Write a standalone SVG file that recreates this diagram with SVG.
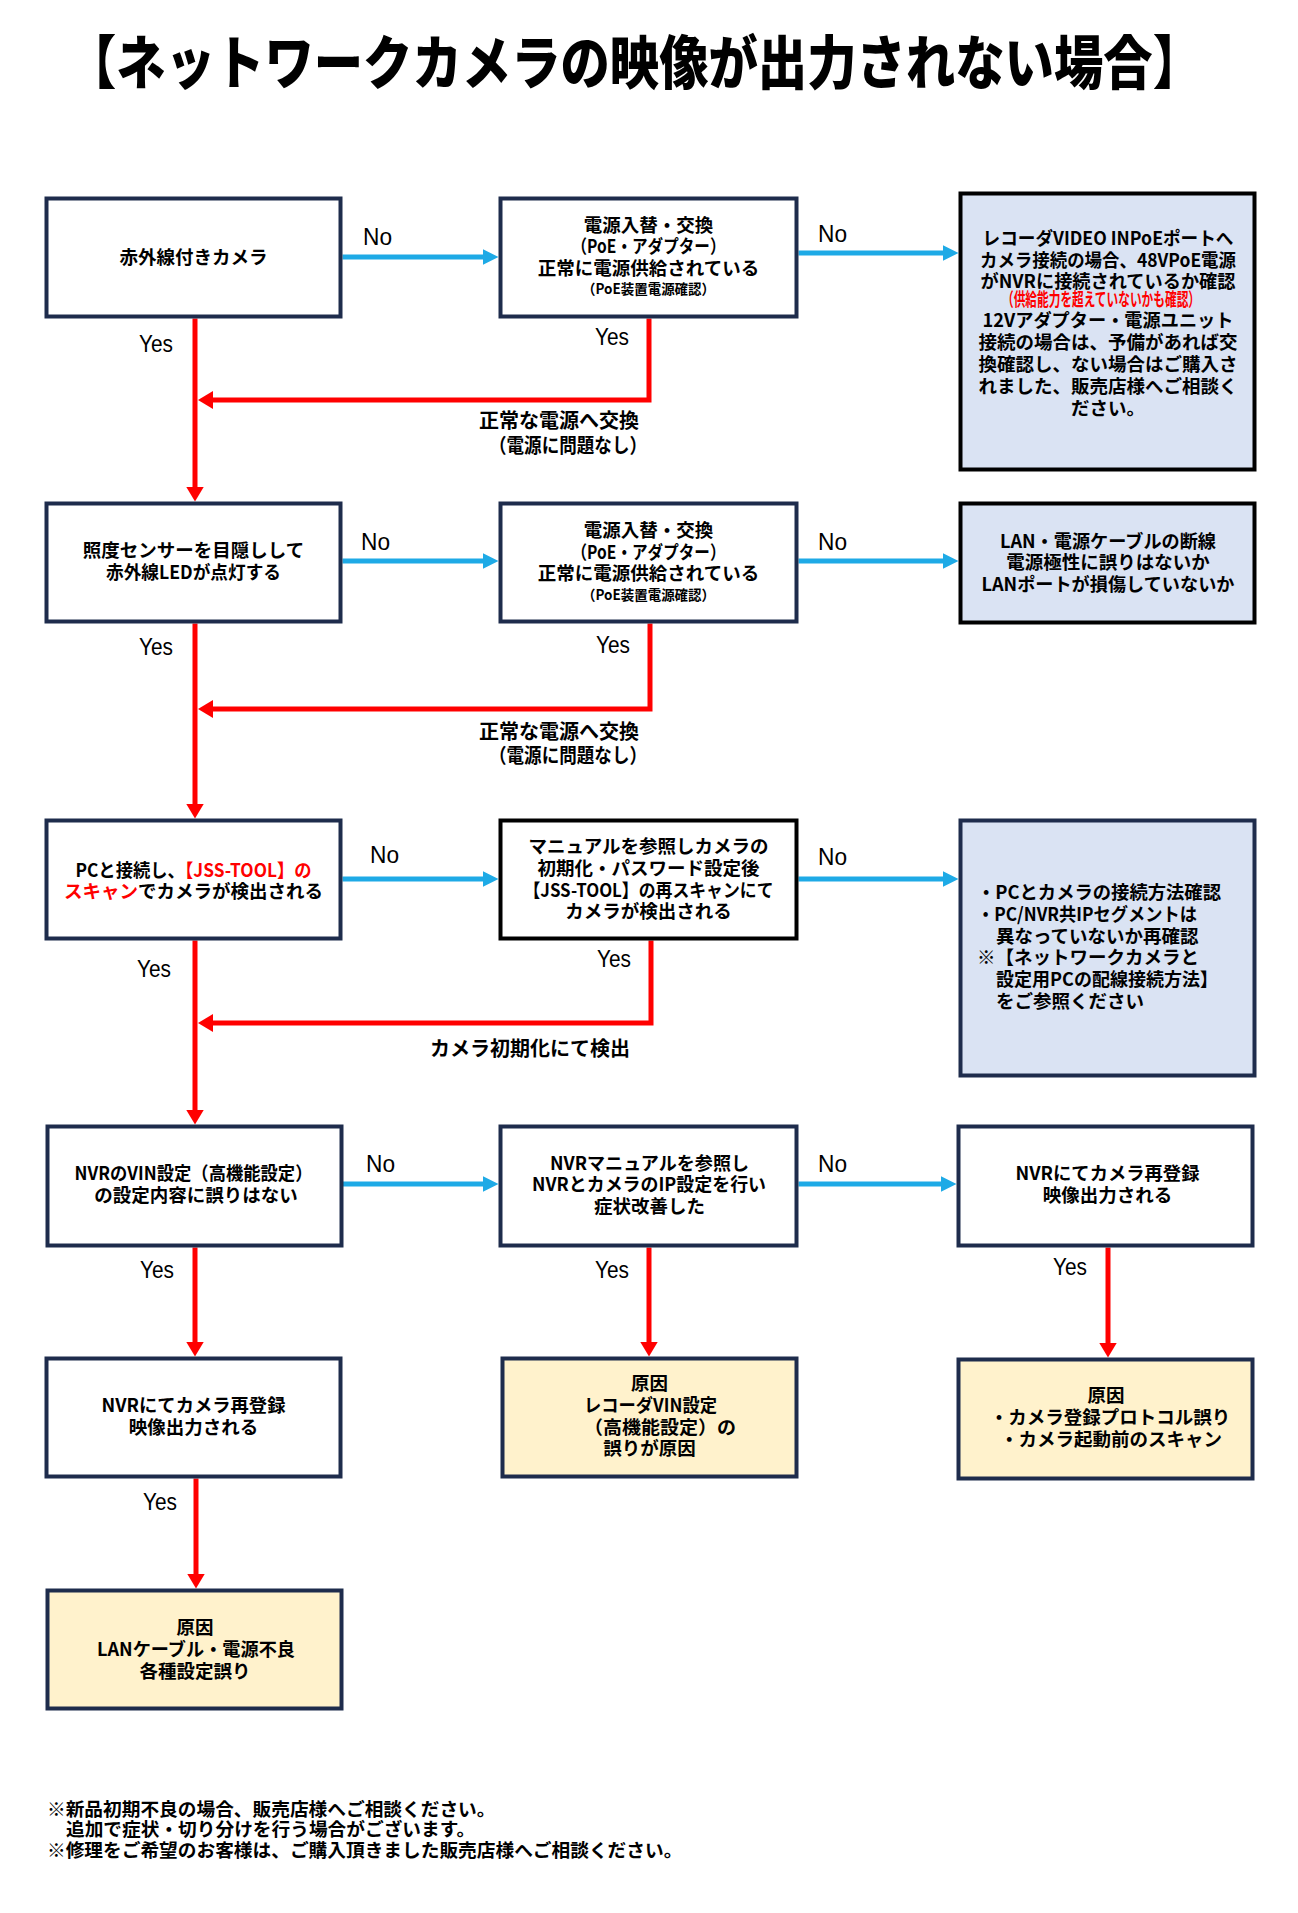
<svg xmlns="http://www.w3.org/2000/svg" width="1298" height="1913" viewBox="0 0 1298 1913">
<style>
.box{stroke:#1e2c4c;stroke-width:4;fill:#fff}
.bk{stroke:#000}
.info{fill:#dae3f3}
.cause{fill:#fff2cc}
.t{font-family:"Noto Sans CJK JP","Noto Sans",sans-serif;font-size:18.5px;font-weight:700;fill:#000;text-anchor:middle}
.l{text-anchor:start}
.s{font-size:14px}
.r{fill:#ff0000}
.lb{font-family:"Noto Sans CJK JP","Noto Sans",sans-serif;font-size:20px;font-weight:700;fill:#000;text-anchor:middle}
.yn{font-family:"Liberation Sans",Arial,sans-serif;font-size:24px;fill:#000}
.blue{stroke:#1eaae6;stroke-width:5;fill:none}
.red{stroke:#ff0000;stroke-width:5;fill:none}
.ft{font-family:"Noto Sans CJK JP","Noto Sans",sans-serif;font-size:18.7px;font-weight:700;fill:#000}
</style>
<defs>
<marker id="hb" markerUnits="userSpaceOnUse" markerWidth="16" markerHeight="16" viewBox="0 0 16 16" refX="1" refY="8" orient="auto"><path d="M0,0 L16,8 L0,16 z" fill="#1eaae6"/></marker>
<marker id="hr" markerUnits="userSpaceOnUse" markerWidth="15" markerHeight="18" viewBox="0 0 15 18" refX="1" refY="9" orient="auto"><path d="M0,0 L15,9 L0,18 z" fill="#ff0000"/></marker>
</defs>
<rect width="1298" height="1913" fill="#fff"/>
<text id="title" x="634.5" y="84" font-family="'Noto Sans CJK JP','Noto Sans',sans-serif" font-size="58" font-weight="900" text-anchor="middle" textLength="1135" lengthAdjust="spacingAndGlyphs">【ネットワークカメラの映像が出力されない場合】</text>

<g id="connectors">
<path class="blue" marker-end="url(#hb)" d="M342.5,257 H483.5"/>
<path class="blue" marker-end="url(#hb)" d="M798.5,253 H943.5"/>
<path class="blue" marker-end="url(#hb)" d="M342.5,561 H483.5"/>
<path class="blue" marker-end="url(#hb)" d="M798.5,561 H943.5"/>
<path class="blue" marker-end="url(#hb)" d="M342.5,879 H483.5"/>
<path class="blue" marker-end="url(#hb)" d="M798.5,879 H943.5"/>
<path class="blue" marker-end="url(#hb)" d="M342.5,1184 H483.5"/>
<path class="blue" marker-end="url(#hb)" d="M798.5,1184 H941.5"/>
<path class="red" marker-end="url(#hr)" d="M195,318.5 V487.5"/>
<path class="red" marker-end="url(#hr)" d="M195,623.5 V804.5"/>
<path class="red" marker-end="url(#hr)" d="M195,940.5 V1110.5"/>
<path class="red" marker-end="url(#hr)" d="M195,1247.5 V1342.5"/>
<path class="red" marker-end="url(#hr)" d="M196,1478.5 V1574.5"/>
<path class="red" marker-end="url(#hr)" d="M649,1247.5 V1342.5"/>
<path class="red" marker-end="url(#hr)" d="M1108,1247.5 V1343.5"/>
<path class="red" marker-end="url(#hr)" d="M649,318.5 V400 H212"/>
<path class="red" marker-end="url(#hr)" d="M650,623.5 V709 H212"/>
<path class="red" marker-end="url(#hr)" d="M651,940.5 V1023 H212"/>
<text class="yn" x="363" y="245" textLength="29" lengthAdjust="spacingAndGlyphs">No</text>
<text class="yn" x="818" y="242" textLength="29" lengthAdjust="spacingAndGlyphs">No</text>
<text class="yn" x="361" y="550" textLength="29" lengthAdjust="spacingAndGlyphs">No</text>
<text class="yn" x="818" y="550" textLength="29" lengthAdjust="spacingAndGlyphs">No</text>
<text class="yn" x="370" y="863" textLength="29" lengthAdjust="spacingAndGlyphs">No</text>
<text class="yn" x="818" y="865" textLength="29" lengthAdjust="spacingAndGlyphs">No</text>
<text class="yn" x="366" y="1172" textLength="29" lengthAdjust="spacingAndGlyphs">No</text>
<text class="yn" x="818" y="1172" textLength="29" lengthAdjust="spacingAndGlyphs">No</text>
<text class="yn" x="139" y="352" textLength="34" lengthAdjust="spacingAndGlyphs">Yes</text>
<text class="yn" x="595" y="345" textLength="34" lengthAdjust="spacingAndGlyphs">Yes</text>
<text class="yn" x="139" y="655" textLength="34" lengthAdjust="spacingAndGlyphs">Yes</text>
<text class="yn" x="596" y="653" textLength="34" lengthAdjust="spacingAndGlyphs">Yes</text>
<text class="yn" x="137" y="977" textLength="34" lengthAdjust="spacingAndGlyphs">Yes</text>
<text class="yn" x="597" y="967" textLength="34" lengthAdjust="spacingAndGlyphs">Yes</text>
<text class="yn" x="140" y="1278" textLength="34" lengthAdjust="spacingAndGlyphs">Yes</text>
<text class="yn" x="595" y="1278" textLength="34" lengthAdjust="spacingAndGlyphs">Yes</text>
<text class="yn" x="1053" y="1275" textLength="34" lengthAdjust="spacingAndGlyphs">Yes</text>
<text class="yn" x="143" y="1510" textLength="34" lengthAdjust="spacingAndGlyphs">Yes</text>
<text class="lb" x="559" y="427.5">正常な電源へ交換</text>
<text class="lb" x="568" y="452.5" textLength="158" lengthAdjust="spacingAndGlyphs">（電源に問題なし）</text>
<text class="lb" x="559" y="738.5">正常な電源へ交換</text>
<text class="lb" x="568" y="762.5" textLength="158" lengthAdjust="spacingAndGlyphs">（電源に問題なし）</text>
<text class="lb" x="530" y="1055.5">カメラ初期化にて検出</text>
</g>

<g id="n1">
<rect class="box" x="46.5" y="198.5" width="294" height="118"/>
<text class="t" x="193.5" y="264">赤外線付きカメラ</text>
</g>
<g id="n2">
<rect class="box" x="500.5" y="198.5" width="296" height="118"/>
<text class="t" x="648.5" y="231.5">電源入替・交換</text>
<text class="t" x="648.5" y="253" textLength="154" lengthAdjust="spacingAndGlyphs">（PoE・アダプター）</text>
<text class="t" x="648.5" y="275">正常に電源供給されている</text>
<text class="t s" x="648.5" y="293.5" textLength="133" lengthAdjust="spacingAndGlyphs">（PoE装置電源確認）</text>
</g>
<g id="n3">
<rect class="box bk info" x="960.5" y="193.5" width="294" height="276"/>
<text class="t" x="1108" y="245" textLength="251" lengthAdjust="spacingAndGlyphs">レコーダVIDEO INPoEポートへ</text>
<text class="t" x="1108" y="267" textLength="256" lengthAdjust="spacingAndGlyphs">カメラ接続の場合、48VPoE電源</text>
<text class="t" x="1108" y="288" textLength="255" lengthAdjust="spacingAndGlyphs">がNVRに接続されているか確認</text>
<text class="t r" x="1101" y="305.5" font-size="12" textLength="198" lengthAdjust="spacingAndGlyphs">（供給能力を超えていないかも確認）</text>
<text class="t" x="1108" y="327" textLength="251" lengthAdjust="spacingAndGlyphs">12Vアダプター・電源ユニット</text>
<text class="t" x="1108" y="349">接続の場合は、予備があれば交</text>
<text class="t" x="1108" y="371">換確認し、ない場合はご購入さ</text>
<text class="t" x="1108" y="393">れました、販売店様へご相談く</text>
<text class="t" x="1108" y="415">ださい。</text>
</g>

<g id="n4">
<rect class="box" x="46.5" y="503.5" width="294" height="118"/>
<text class="t" x="193.5" y="557">照度センサーを目隠しして</text>
<text class="t" x="193.5" y="579" textLength="175" lengthAdjust="spacingAndGlyphs">赤外線LEDが点灯する</text>
</g>
<g id="n5">
<rect class="box" x="500.5" y="503.5" width="296" height="118"/>
<text class="t" x="648.5" y="537">電源入替・交換</text>
<text class="t" x="648.5" y="559" textLength="154" lengthAdjust="spacingAndGlyphs">（PoE・アダプター）</text>
<text class="t" x="648.5" y="580">正常に電源供給されている</text>
<text class="t s" x="648.5" y="599.5" textLength="133" lengthAdjust="spacingAndGlyphs">（PoE装置電源確認）</text>
</g>
<g id="n6">
<rect class="box bk info" x="960.5" y="503.5" width="294" height="119"/>
<text class="t" x="1108" y="548" textLength="216" lengthAdjust="spacingAndGlyphs">LAN・電源ケーブルの断線</text>
<text class="t" x="1108" y="569">電源極性に誤りはないか</text>
<text class="t" x="1108" y="591" textLength="253" lengthAdjust="spacingAndGlyphs">LANポートが損傷していないか</text>
</g>

<g id="n7">
<rect class="box" x="46.5" y="820.5" width="294" height="118"/>
<text class="t" x="193.5" y="877" textLength="236" lengthAdjust="spacingAndGlyphs">PCと接続し、<tspan class="r">【JSS-TOOL】の</tspan></text>
<text class="t" x="193.5" y="898"><tspan class="r">スキャン</tspan>でカメラが検出される</text>
</g>
<g id="n8">
<rect class="box bk" x="500.5" y="820.5" width="296" height="118"/>
<text class="t" x="648.5" y="853">マニュアルを参照しカメラの</text>
<text class="t" x="648.5" y="875">初期化・パスワード設定後</text>
<text class="t" x="648.5" y="897" textLength="250" lengthAdjust="spacingAndGlyphs">【JSS-TOOL】の再スキャンにて</text>
<text class="t" x="648.5" y="918">カメラが検出される</text>
</g>
<g id="n9">
<rect class="box info" x="960.5" y="820.5" width="294" height="255"/>
<text class="t l" x="977" y="899" textLength="244" lengthAdjust="spacingAndGlyphs">・PCとカメラの接続方法確認</text>
<text class="t l" x="977" y="921" textLength="220" lengthAdjust="spacingAndGlyphs">・PC/NVR共IPセグメントは</text>
<text class="t l" x="996" y="943">異なっていないか再確認</text>
<text class="t l" x="977" y="964">※【ネットワークカメラと</text>
<text class="t l" x="996" y="986" textLength="222" lengthAdjust="spacingAndGlyphs">設定用PCの配線接続方法】</text>
<text class="t l" x="996" y="1008">をご参照ください</text>
</g>

<g id="n10">
<rect class="box" x="47.5" y="1126.5" width="294" height="119"/>
<text class="t" x="193.5" y="1180" textLength="238" lengthAdjust="spacingAndGlyphs">NVRのVIN設定（高機能設定）</text>
<text class="t" x="196" y="1202">の設定内容に誤りはない</text>
</g>
<g id="n11">
<rect class="box" x="500.5" y="1126.5" width="296" height="119"/>
<text class="t" x="649.5" y="1170" textLength="199" lengthAdjust="spacingAndGlyphs">NVRマニュアルを参照し</text>
<text class="t" x="649" y="1191" textLength="234" lengthAdjust="spacingAndGlyphs">NVRとカメラのIP設定を行い</text>
<text class="t" x="649.5" y="1213">症状改善した</text>
</g>
<g id="n12">
<rect class="box" x="958.5" y="1126.5" width="294" height="119"/>
<text class="t" x="1107.5" y="1180" textLength="184" lengthAdjust="spacingAndGlyphs">NVRにてカメラ再登録</text>
<text class="t" x="1107.5" y="1202">映像出力される</text>
</g>

<g id="n13">
<rect class="box" x="46.5" y="1358.5" width="294" height="118"/>
<text class="t" x="193.5" y="1412" textLength="184" lengthAdjust="spacingAndGlyphs">NVRにてカメラ再登録</text>
<text class="t" x="193.5" y="1434">映像出力される</text>
</g>
<g id="n14">
<rect class="box cause" x="502.5" y="1358.5" width="294" height="118"/>
<text class="t" x="649.5" y="1390">原因</text>
<text class="t" x="650.5" y="1412" textLength="133" lengthAdjust="spacingAndGlyphs">レコーダVIN設定</text>
<text class="t" x="660" y="1434" textLength="152" lengthAdjust="spacingAndGlyphs">（高機能設定）の</text>
<text class="t" x="649.5" y="1455">誤りが原因</text>
</g>
<g id="n15">
<rect class="box cause" x="958.5" y="1359.5" width="294" height="119"/>
<text class="t" x="1106" y="1402">原因</text>
<text class="t" x="1110" y="1424">・カメラ登録プロトコル誤り</text>
<text class="t" x="1111" y="1446">・カメラ起動前のスキャン</text>
</g>
<g id="n16">
<rect class="box cause" x="47.5" y="1590.5" width="294" height="118"/>
<text class="t" x="195" y="1634">原因</text>
<text class="t" x="196" y="1656" textLength="198" lengthAdjust="spacingAndGlyphs">LANケーブル・電源不良</text>
<text class="t" x="195" y="1678">各種設定誤り</text>
</g>

<g id="footer">
<text class="ft" x="47" y="1816">※新品初期不良の場合、販売店様へご相談ください。</text>
<text class="ft" x="66" y="1836">追加で症状・切り分けを行う場合がございます。</text>
<text class="ft" x="47" y="1857">※修理をご希望のお客様は、ご購入頂きました販売店様へご相談ください。</text>
</g>
</svg>
